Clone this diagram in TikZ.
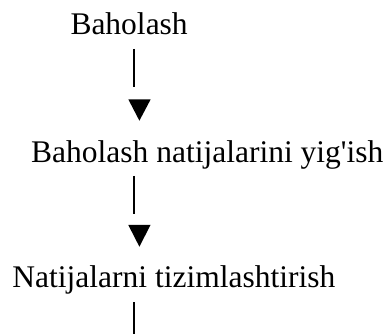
\documentclass[tikz,border=0pt]{standalone}
\usepackage{fontspec}
\setmainfont{Liberation Serif}[Ligatures=TeXOff]
\begin{document}
\begin{tikzpicture}[x=1pt,y=-1pt,
  lbl/.style={anchor=base west,inner sep=0pt,outer sep=0pt,font=\fontsize{31.5}{38}\selectfont},
  bar/.style={line width=2pt},
  tri/.style={fill=black}]
\useasboundingbox (0,0) rectangle (389,334);
\node[lbl] (t1) at (70.5,35) {Baholash};
\node[lbl] (t2) at (31.2,163) {Baholash natijalarini yig'ish};
\node[lbl] (t3) at (12.5,288) {Natijalarni tizimlashtirish};
\coordinate (a1) at (134.3,49);
\coordinate (b1) at (134.3,86.7);
\coordinate (a2) at (134.3,176);
\coordinate (b2) at (134.3,214.3);
\coordinate (a3) at (134.3,302.3);
\coordinate (b3) at (134.3,334);
\draw[bar] (a1) -- (b1);
\draw[bar] (a2) -- (b2);
\draw[bar] (a3) -- (b3);
\fill[tri] (128.3,99.3) -- (150.7,99.3) -- (139.4,120.7) -- cycle;
\fill[tri] (128.3,225) -- (150.5,225) -- (139.4,246.7) -- cycle;
\end{tikzpicture}
\end{document}
